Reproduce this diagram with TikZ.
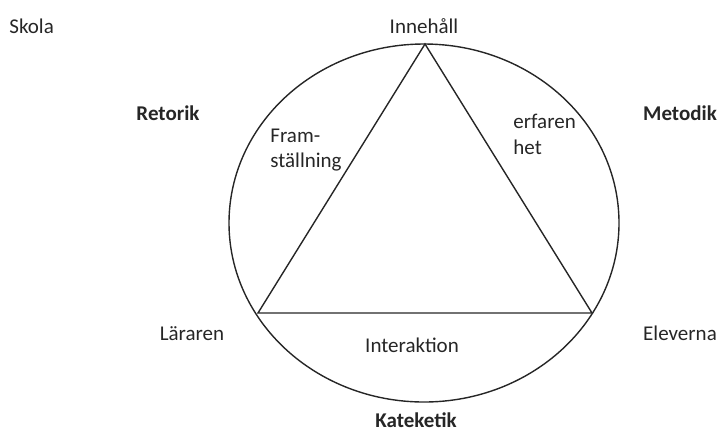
\documentclass[tikz,border=0pt]{standalone}
\usepackage{fontspec}
\setmainfont{Carlito}
\begin{document}
\begin{tikzpicture}[x=0.5pt,y=-0.5pt,
  lbl/.style={inner sep=0pt,font=\fontsize{10.5pt}{12.8pt}\selectfont,text=black!85},
  blbl/.style={lbl,font=\fontsize{10.5pt}{12.8pt}\selectfont\bfseries},
  edge/.style={draw=black!85,line width=0.7pt}]
\useasboundingbox (0,0) rectangle (722,430);
% outer ellipse
\draw[edge] (424,223) ellipse [x radius=97.5pt, y radius=89.5pt];
% triangle vertices
\coordinate (top) at (425,44);
\coordinate (bl) at (258,313);
\coordinate (br) at (592,313);
\draw[edge] (top) -- (bl) -- (br) -- cycle;
% labels
\node[lbl,anchor=base west] (skola) at (9,33) {Skola};
\node[lbl,anchor=base] (innehall) at (424,33) {Innehåll};
\node[blbl,anchor=base] (retorik) at (168,120) {Retorik};
\node[blbl,anchor=base] (metodik) at (680,120) {Metodik};
\node[lbl,anchor=base west] (fram) at (270,142) {Fram-};
\node[lbl,anchor=base west] (stall) at (270,167) {ställning};
\node[lbl,anchor=base west] (erf) at (513,128) {erfaren};
\node[lbl,anchor=base west] (het) at (513,154) {het};
\node[lbl,anchor=base] (lararen) at (192,340) {Läraren};
\node[lbl,anchor=base] (eleverna) at (680,340) {Eleverna};
\node[lbl,anchor=base] (interaktion) at (412,352) {Interaktion};
\node[blbl,anchor=base] (kateketik) at (416,427) {Kateketik};
\end{tikzpicture}
\end{document}
